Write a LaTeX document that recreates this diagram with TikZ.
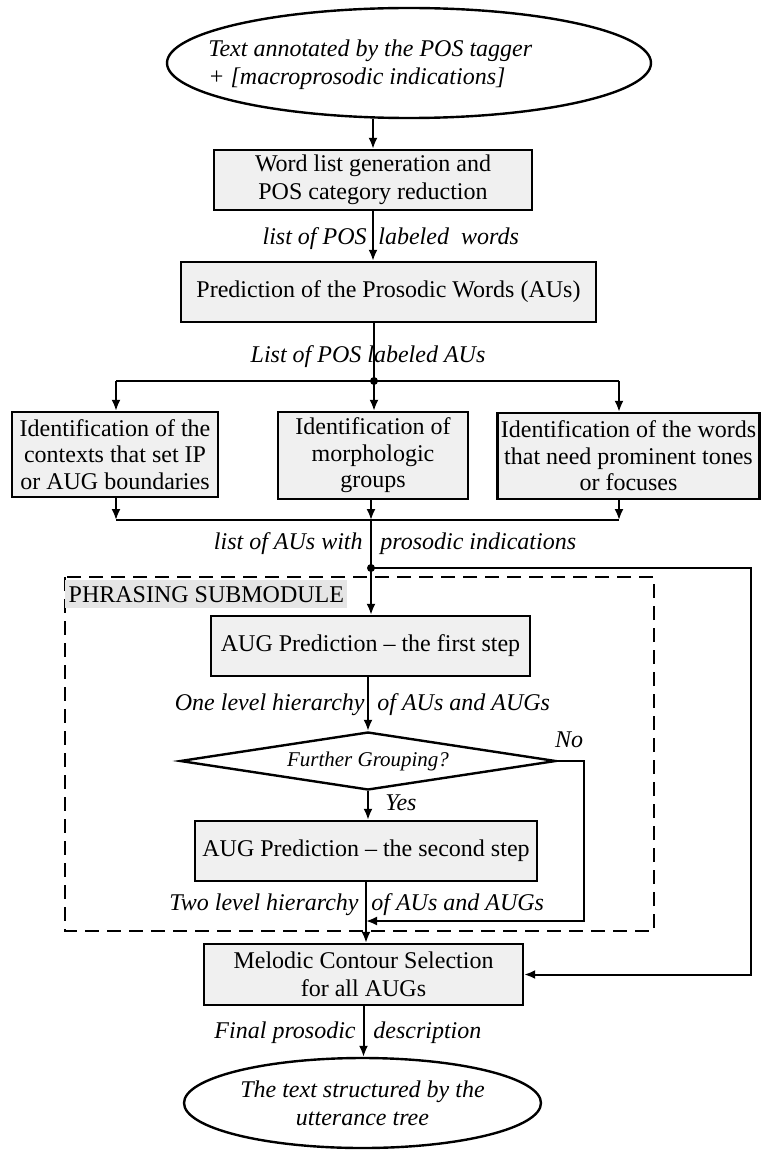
\documentclass[tikz,border=0pt]{standalone}
\usepackage{fontspec}
\setmainfont{Liberation Serif}
\usepackage{tikz}
\usetikzlibrary{arrows.meta,shapes.geometric}
\tikzset{
	proc/.style={draw, line width=1.2pt, fill=black!6, inner sep=0pt, align=center, font=\fontsize{12}{14}\selectfont},
	proc3/.style={proc, font=\fontsize{12}{13.3}\selectfont},
	oval/.style={draw, ellipse, line width=1.2pt, inner sep=0pt, align=center, font=\fontsize{12}{14}\selectfont\itshape},
	lbl/.style={inner sep=0pt, font=\fontsize{12}{14}\selectfont\itshape},
	conn/.style={line width=1pt},
	arr/.style={conn, -{Latex[length=5.5pt,width=4.5pt]}},
	frame/.style={line width=1pt, dash pattern=on 7pt off 4pt},
}

\begin{document}
\begin{tikzpicture}[x=0.5pt, y=-0.5pt]
			%%%%% START %%%%%
			\useasboundingbox (0,0) rectangle (761,1150);
			
			\node[oval, minimum width=242pt, minimum height=55pt] (src) at (409,63) {};
			\node[lbl, anchor=west, align=left] (srctxt) at (208,65) {Text annotated by the POS tagger\\+ [macroprosodic indications]};
			
			\node[proc, minimum width=159pt, minimum height=30pt] (wlist) at (373,180) {Word list generation and\\POS category reduction};
			\node[proc, minimum width=207.5pt, minimum height=30pt] (pwords) at (388.5,292) {Prediction of the Prosodic Words (AUs)};
			
			\node[proc3, minimum width=103pt, minimum height=42.5pt] (ctx) at (115,454.5) {Identification of the\\contexts that set IP\\or AUG boundaries};
			\node[proc3, minimum width=95pt, minimum height=43.5pt] (morph) at (373,455.5) {Identification of\\morphologic\\groups};
			\node[proc3, minimum width=131pt, minimum height=43pt] (prom) at (628.5,456) {Identification of the words\\that need prominent tones\\or focuses};
			
			\draw[frame] (65,577) rectangle (654,931);
			\node[anchor=north west, fill=black!10, inner xsep=1pt, inner ysep=0pt, minimum width=141pt, minimum height=14pt, text depth=0pt, align=left, font=\fontsize{12}{14}\selectfont] (phr) at (65,580) {PHRASING SUBMODULE\hfill};
			
			\node[proc, minimum width=159.5pt, minimum height=30pt] (augone) at (370.5,646) {AUG Prediction -- the first step};
			\node[draw, diamond, line width=1.2pt, inner sep=0pt, shape aspect=6.5, minimum width=188pt, minimum height=29pt, font=\fontsize{10.5}{12}\selectfont\itshape] (further) at (368,761) {Further Grouping?};
			\node[proc, minimum width=171pt, minimum height=30pt] (augtwo) at (366,851) {AUG Prediction -- the second step};
			\node[proc, minimum width=159.5pt, minimum height=30.5pt] (melodic) at (363.5,974.5) {Melodic Contour Selection\\for all AUGs};
			\node[oval, minimum width=178.5pt, minimum height=45pt] (tree) at (362.5,1103) {The text structured by the\\utterance tree};
			
			% labels on the connectors
			\node[lbl, anchor=base east] (wlbla) at (367,244) {list of POS};
			\node[lbl, anchor=base west] (wlblb) at (378,244) {labeled\ \ words};
			\node[lbl, anchor=base] (aulbl) at (368,362) {List of POS labeled AUs};
			\node[lbl, anchor=base east] (plbla) at (363,549) {list of AUs with};
			\node[lbl, anchor=base west] (plblb) at (380,549) {prosodic indications};
			\node[lbl, anchor=base east] (onea) at (365,710) {One level hierarchy};
			\node[lbl, anchor=base west] (oneb) at (377,710) {of AUs and AUGs};
			\node[lbl, anchor=base west] (yes) at (385,810) {Yes};
			\node[lbl, anchor=base] (no) at (569,747) {No};
			\node[lbl, anchor=base east] (twoa) at (359,910) {Two level hierarchy};
			\node[lbl, anchor=base west] (twob) at (371,910) {of AUs and AUGs};
			\node[lbl, anchor=base east] (fina) at (356,1038) {Final prosodic};
			\node[lbl, anchor=base west] (finb) at (373,1038) {description};
			
			% split and merge points
			\coordinate (split) at (374,381);
			\coordinate (splitl) at (116,381);
			\coordinate (splitr) at (619,381);
			\coordinate (merge) at (371,520);
			\coordinate (mergel) at (116,520);
			\coordinate (merger) at (619,520);
			\coordinate (fork) at (371,568);
			\coordinate (forkr) at (751,568);
			\coordinate (nobend) at (584,921);
			\coordinate (nojoin) at (366,921);
			
			\draw[arr] (src.south -| wlist.north) -- (wlist.north);
			\draw[arr] (wlist.south) -- (wlist.south |- pwords.north);
			\draw[conn] (pwords.south -| split) -- (split);
			\draw[conn] (splitl) -- (splitr);
			\fill (split) circle (4);
			\draw[arr] (splitl) -- (splitl |- ctx.north);
			\draw[arr] (split) -- (split |- morph.north);
			\draw[arr] (splitr) -- (splitr |- prom.north);
			
			\draw[arr] (ctx.south -| mergel) -- (mergel);
			\draw[arr] (morph.south -| merge) -- (merge);
			\draw[arr] (prom.south -| merger) -- (merger);
			\draw[conn] (mergel) -- (merger);
			\draw[conn] (merge) -- (fork);
			\fill (fork) circle (4);
			\draw[arr] (fork) -- (fork |- augone.north);
			\draw[arr] (fork) -- (forkr) |- (melodic.east);
			
			\draw[arr] (further.north |- augone.south) -- (further.north);
			\draw[arr] (further.south) -- (further.south |- augtwo.north);
			\draw[arr] (further.east) -| (nobend) -- (nojoin);
			\draw[arr] (augtwo.south) -- (augtwo.south |- melodic.north);
			\draw[arr] (melodic.south) -- (melodic.south |- tree.north);
			
			%%%%% END %%%%%
\end{tikzpicture}
\end{document}
